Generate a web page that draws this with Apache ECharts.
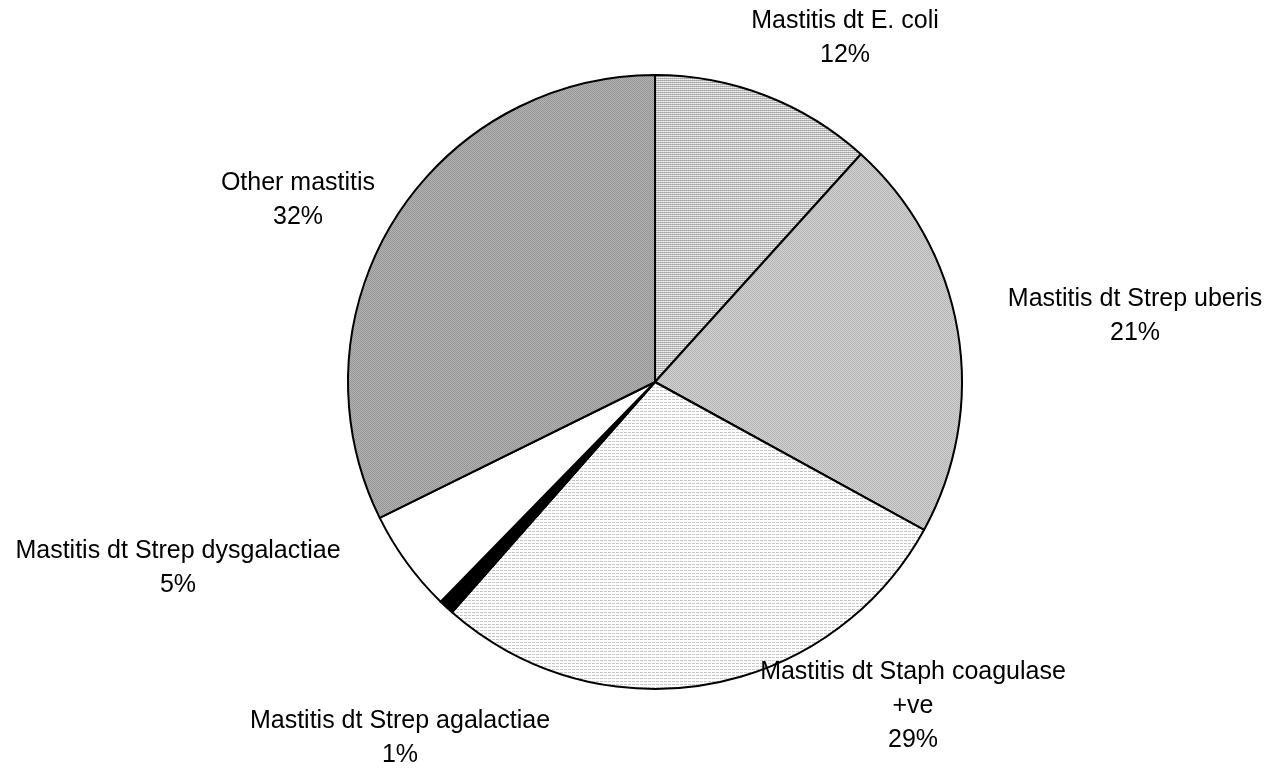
<!DOCTYPE html>
<html>
<head>
<meta charset="utf-8">
<script src="https://cdn.jsdelivr.net/npm/echarts@6/dist/echarts.min.js"></script>
<style>
html,body{margin:0;padding:0;background:#fff;}
#chart{width:1274px;height:777px;}
</style>
</head>
<body>
<div id="chart"></div>
<script>
var categories = [
  "Mastitis dt E. coli",
  "Mastitis dt Strep uberis",
  "Mastitis dt Staph coagulase +ve",
  "Mastitis dt Strep agalactiae",
  "Mastitis dt Strep dysgalactiae",
  "Other mastitis"
];
var shares = [11.7, 21.3, 28.5, 0.8, 5.4, 32.3];

// label anchor points (layout only)
var labelAnchors = [
  [845, 38], [1135, 316], [913, 706], [400, 738], [178, 568], [298, 200]
];

function makeTile(w, h, pixels) {
  var c = document.createElement('canvas');
  c.width = w; c.height = h;
  var ctx = c.getContext('2d');
  for (var y = 0; y < h; y++) {
    for (var x = 0; x < w; x++) {
      ctx.fillStyle = pixels[y][x];
      ctx.fillRect(x, y, 1, 1);
    }
  }
  return { image: c, repeat: 'repeat' };
}

var W = '#ffffff';
var fills = [
  makeTile(2, 2, [['#a4a4a4', '#b4b4b4'], ['#dcdcdc', '#f0f0f0']]),
  makeTile(2, 2, [['#b4b4b4', '#d2d2d2'], ['#d2d2d2', '#b4b4b4']]),
  makeTile(4, 3, [['#c8c8c8', '#c8c8c8', '#c8c8c8', W], [W, W, W, W], [W, W, W, W]]),
  '#000000',
  '#ffffff',
  makeTile(2, 2, [['#969696', '#b2b2b2'], ['#b2b2b2', '#969696']])
];

var data = categories.map(function (n, i) {
  return { name: n, value: shares[i], itemStyle: { color: fills[i] } };
});

var chart = echarts.init(document.getElementById('chart'), null, { renderer: 'canvas' });
chart.setOption({
  animation: false,
  backgroundColor: '#ffffff',
  series: [{
    type: 'pie',
    center: [655, 382],
    radius: 307,
    startAngle: 90,
    clockwise: true,
    percentPrecision: 0,
    data: data,
    itemStyle: { borderColor: '#000000', borderWidth: 2 },
    label: {
      show: true,
      position: 'outside',
      fontFamily: 'Liberation Sans, Arial, sans-serif',
      fontSize: 25,
      lineHeight: 34,
      color: '#000000',
      align: 'center',
      formatter: function (p) {
        return p.name.replace(' +ve', '\n+ve') + '\n' + p.percent + '%';
      }
    },
    labelLine: { show: false },
    labelLayout: function (p) {
      var a = labelAnchors[p.dataIndex];
      return { x: a[0], y: a[1], align: 'center', verticalAlign: 'middle', hideOverlap: false, moveOverlap: false };
    },
    emphasis: { disabled: true }
  }]
});
</script>
</body>
</html>
